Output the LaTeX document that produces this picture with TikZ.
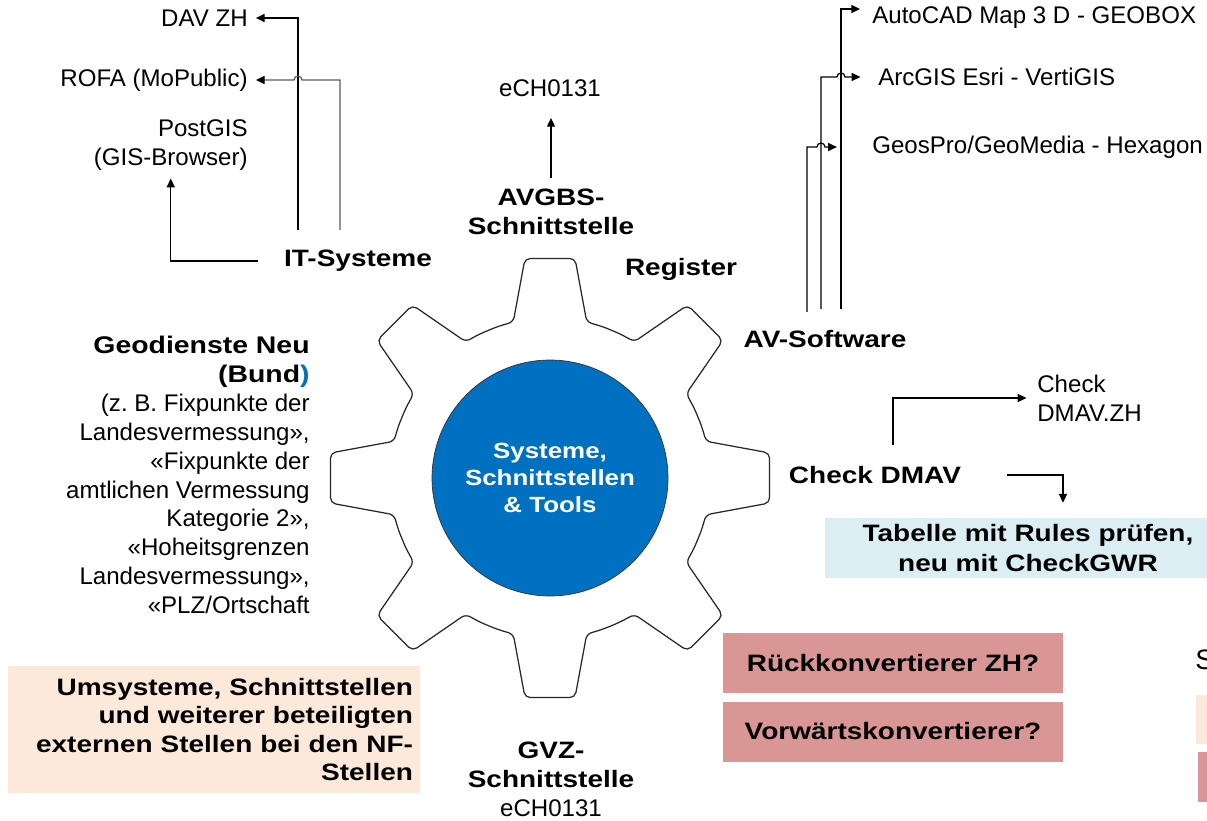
\documentclass[tikz,border=0pt]{standalone}
\usepackage{fontspec}
\setmainfont{Liberation Sans}
\newfontfamily\heavyfont[FakeStretch=1.18]{Liberation Sans}
\usetikzlibrary{arrows.meta,calc}
\definecolor{hubblue}{HTML}{0070C0}
\definecolor{peach}{HTML}{FDE9D9}
\definecolor{rosered}{HTML}{DA9694}
\definecolor{iceblue}{HTML}{DAEEF3}
\tikzstyle{link}=[-{Triangle[length=5pt,width=4.6pt,color=black]}, line width=0.7pt, shorten >=4.5pt]
\tikzstyle{plain}=[inner sep=0pt, font=\fontsize{13.7}{16.4}\selectfont]
\tikzstyle{heavy}=[inner sep=0pt, align=center, font=\heavyfont\bfseries\fontsize{13.5}{16.8}\selectfont]
\tikzstyle{gearline}=[draw=black!85, line width=0.7pt, fill=white, rounded corners=3pt]
\tikzstyle{hubdisc}=[circle, draw=black!80, fill=hubblue, minimum size=4.72cm, inner sep=0pt, text=white, align=center, font=\heavyfont\bfseries\fontsize{12.5}{15.3}\selectfont]
\tikzstyle{tagbox}=[rectangle, fill=rosered, minimum width=6.8cm, minimum height=1.2cm, inner sep=0pt, font=\heavyfont\bfseries\fontsize{13.5}{16.8}\selectfont]
\frenchspacing

\begin{document}
\begin{tikzpicture}[x=0.02cm, y=-0.02cm]
				\useasboundingbox (0,0) rectangle (1207,821);

				%The gear
				\begin{scope}[shift={(550,478)}]
					\draw[gearline] (67.5:160) \foreach \a in {90,135,...,405} {
						arc[start angle={\a-22.5}, end angle={\a-13.3}, radius=160]
						-- ({\a-6.5}:221) -- ({\a+6.5}:221) -- ({\a+13.3}:160)
						arc[start angle={\a+13.3}, end angle={\a+22.5}, radius=160]
					};
				\end{scope}

				%The hub
				\node[hubdisc] (hub) at (550,478) {Systeme,\\Schnittstellen\\\&\ Tools};

				%IT-Systeme and its targets
				\node[heavy] (it) at (358,261) {IT-Systeme};
				\node[plain, anchor=east] (dav) at (248,18) {DAV ZH};
				\node[plain, anchor=east] (rofa) at (248,80) {ROFA (MoPublic)};
				\node[plain, anchor=east, align=right] (postgis) at (248,145) {PostGIS\\(GIS-Browser)};
				\coordinate (itA) at ([shift={(-60,-20)}]it.north);
				\coordinate (itB) at ([shift={(-18,-20)}]it.north);
				\draw[link] (itA) |- (dav.east);
				\draw[link, draw=black!65] (itB) -- (itB |- rofa.east) -- ++(-38,0) arc[start angle=0, end angle=-180, radius=4] -- (rofa.east);
				\draw[link] ([xshift=-0.52cm]it.west) -| (postgis.south);

				%AVGBS
				\node[heavy] (avgbs) at (551,212) {AVGBS-\\Schnittstelle};
				\node[plain] (echtop) at (550,88) {eCH0131};
				\draw[link, shorten <=6pt, shorten >=12pt] (avgbs.north) -- (avgbs.north |- echtop.south);

				%Register
				\node[heavy] (register) at (681,269) {Register};

				%AV-Software and its targets
				\node[heavy] (avsw) at (825,339) {AV-Software};
				\node[plain, anchor=west] (autocad) at (872,18) {AutoCAD Map 3 D - GEOBOX};
				\node[plain, anchor=west] (arcgis) at (878,77) {ArcGIS Esri - VertiGIS};
				\node[plain, anchor=west] (geospro) at (872,147) {GeosPro/GeoMedia - Hexagon};
				\coordinate (avA) at ([shift={(-18,-18)}]avsw.north);
				\coordinate (avB) at ([shift={(-4,-21)}]avsw.north);
				\coordinate (avC) at ([shift={(16,-21)}]avsw.north);
				\draw[link, shorten >=6.8pt] (avC) |- ([yshift=0.18cm]autocad.west);
				\draw[link, shorten >=10pt] (avB) -- (avB |- arcgis.west) -- ++(16,0) arc[start angle=180, end angle=360, radius=4] -- (arcgis.west);
				\draw[link, shorten >=20pt] (avA) -- (avA |- geospro.west) -- ++(10,0) arc[start angle=180, end angle=360, radius=4] -- (geospro.west);

				%Check DMAV
				\node[heavy] (checkdmav) at (875,475) {Check DMAV};
				\node[plain, anchor=west, align=left] (checkzh) at (1037,398) {Check\\DMAV.ZH};
				\node[heavy, fill=iceblue, minimum width=8.12cm, minimum height=1.2cm] (tabelle) at (1028,548) {Tabelle mit Rules prüfen,\\neu mit CheckGWR};
				\draw[link, shorten >=6pt] ([shift={(18,-21)}]checkdmav.north) |- (checkzh.west);
				\draw[link, shorten >=8.5pt] ([xshift=0.92cm]checkdmav.east) -| ([xshift=0.7cm]tabelle.north);

				%The converters
				\node[tagbox] (rueck) at (893,663) {Rückkonvertierer ZH?};
				\node[tagbox] (vorw) at (893,731.5) {Vorwärtskonvertierer?};

				%Geodienste
				\node[plain, anchor=east, align=right] (geo) at (310,475) {{\heavyfont\bfseries Geodienste Neu}\\{\heavyfont\bfseries (Bund\textcolor{hubblue}{)}}\\(z. B. Fixpunkte der\\Landesvermessung»,\\«Fixpunkte der\\amtlichen Vermessung\\Kategorie 2»,\\«Hoheitsgrenzen\\Landesvermessung»,\\«PLZ/Ortschaft};

				%Umsysteme
				\node[heavy, fill=peach, align=right, text width=7.96cm, inner xsep=0.14cm, minimum height=2.54cm, font=\heavyfont\bfseries\fontsize{13.5}{16.3}\selectfont] (umsys) at (214,729.5) {Umsysteme, Schnittstellen\\und weiterer beteiligten\\externen Stellen bei den NF-\\Stellen};

				%GVZ
				\node[heavy] (gvz) at (551,765) {GVZ-\\Schnittstelle};
				\node[plain] (echbot) at (551,808) {eCH0131};

				%The legend at the edge
				\node[inner sep=0pt, anchor=west, font=\fontsize{16}{18}\selectfont] (legend) at (1195,660) {S};
				\fill[peach] (1196,695) rectangle (1215,744);
				\fill[rosered] (1198,752) rectangle (1215,802);
\end{tikzpicture}
\end{document}
